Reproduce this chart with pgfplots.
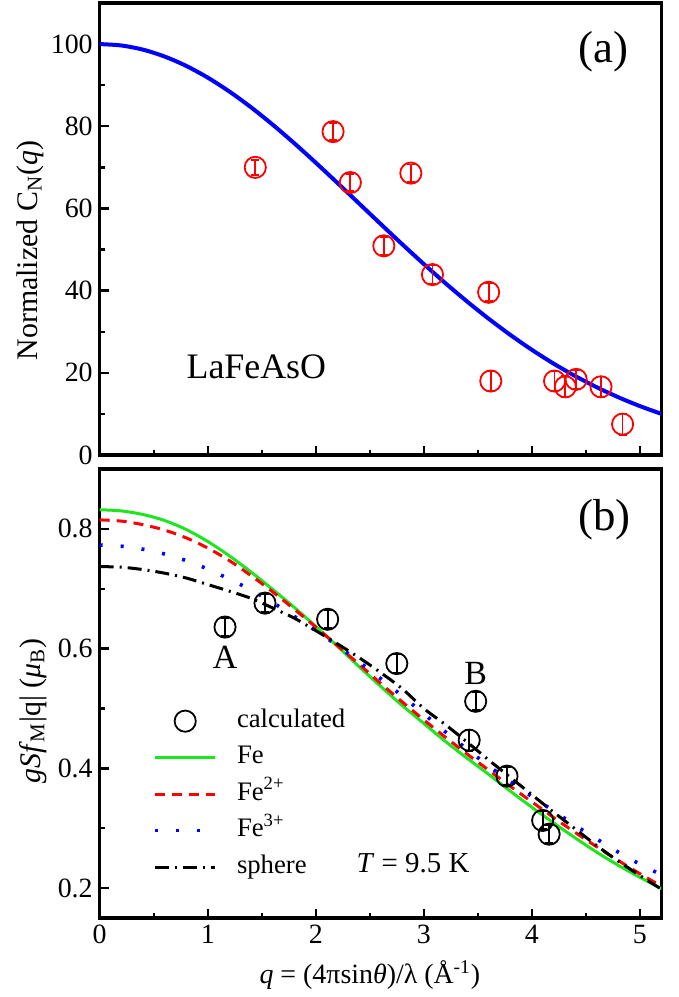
\documentclass[border=0pt]{standalone}
\usepackage{fontspec}
\setmainfont{Liberation Serif}
\usepackage{pgfplots}
\pgfplotsset{compat=1.18}
\usepackage{pgfplotstable}

\definecolor{fegreen}{RGB}{30,230,30}

% Normalized C_N(q): measured points with errors
\pgfplotstableread{
q     c     e
1.44  70.0  1.8
2.16  78.7  2.0
2.32  66.3  2.0
2.63  50.9  2.2
2.88  68.6  2.1
3.08  43.9  2.3
3.60  39.6  2.2
3.62  18.0  2.5
4.21  18.0  2.3
4.31  16.6  2.6
4.41  18.4  2.3
4.64  16.6  2.5
4.84   7.5  2.6
}\cndata

% Normalized C_N(q): fitted curve
\pgfplotstableread{
q    c
0.0  100.00
0.2  99.66
0.4  98.65
0.6  96.98
0.8  94.70
1.0  91.84
1.2  88.46
1.4  84.63
1.6  80.41
1.8  75.89
2.0  71.13
2.2  66.22
2.4  61.23
2.6  56.23
2.8  51.29
3.0  46.47
3.2  41.81
3.4  37.37
3.6  33.17
3.8  29.24
4.0  25.60
4.2  22.26
4.4  19.23
4.6  16.50
4.8  14.06
5.0  11.90
5.2  10.00
}\cnfit

% calculated g S f_M |q|
\pgfplotstableread{
q     m      e
1.16  0.636  0.015
1.53  0.676  0.015
2.11  0.649  0.015
2.75  0.575  0.015
3.48  0.512  0.015
3.42  0.447  0.018
3.77  0.387  0.015
4.10  0.313  0.015
4.16  0.290  0.015
}\calc

% form factor curves
\pgfplotstableread{
q    fe     fetwo  fethree sph
0.0  0.832  0.815  0.773   0.737
0.2  0.830  0.813  0.771   0.736
0.4  0.824  0.807  0.766   0.732
0.6  0.814  0.798  0.758   0.726
0.8  0.799  0.785  0.747   0.718
1.0  0.779  0.768  0.733   0.707
1.2  0.755  0.747  0.716   0.696
1.4  0.728  0.722  0.698   0.684
1.6  0.699  0.695  0.677   0.668
1.8  0.669  0.666  0.654   0.651
2.0  0.637  0.636  0.630   0.630
2.2  0.604  0.605  0.605   0.608
2.4  0.570  0.574  0.578   0.585
2.6  0.537  0.542  0.550   0.560
2.8  0.505  0.511  0.521   0.533
3.0  0.475  0.481  0.491   0.500
3.2  0.445  0.452  0.461   0.473
3.4  0.417  0.424  0.432   0.444
3.6  0.390  0.397  0.404   0.414
3.8  0.362  0.370  0.378   0.385
4.0  0.335  0.344  0.353   0.356
4.2  0.309  0.318  0.329   0.327
4.4  0.284  0.293  0.305   0.299
4.6  0.260  0.269  0.282   0.271
4.8  0.238  0.246  0.260   0.245
5.0  0.218  0.224  0.240   0.221
5.2  0.199  0.203  0.222   0.198
}\ffcurves

\pgfplotsset{
  panel/.style={
    scale only axis, width=280.9bp,
    xmin=0, xmax=5.2,
    axis line style={line width=1.6bp},
    tick align=inside, xtick pos=bottom, ytick pos=left,
    major tick length=4.5bp, minor tick length=2.5bp,
    every tick/.style={black, line width=1.2bp},
    xtick={0,1,2,3,4,5}, minor xtick={0.5,1.5,2.5,3.5,4.5},
    tick label style={font=\fontsize{14}{16}\selectfont},
    /pgf/number format/assume math mode=true,
  },
  lineimg/.style={legend image code/.code={\draw[##1] (0bp,0bp) -- (30bp,0bp);}},
  markimg/.style={legend image code/.code={\path[draw=none] (0bp,0bp) -- (30bp,0bp); \draw[##1] plot coordinates {(15bp,0bp)};}},
  redline/.style={red, line width=1.5bp, dash pattern=on 5bp off 3.5bp},
  blueline/.style={blue, line width=1.8bp, dash pattern=on 1.5bp off 9bp},
  sphline/.style={black, line width=1.5bp, dash pattern=on 7bp off 3bp on 1bp off 3bp},
}

\begin{document}
\begin{tikzpicture}
\path[use as bounding box] (-49.85bp,-39.5bp) rectangle (289.65bp,459bp);

% (a) normalized C_N(q)
\begin{axis}[panel, at={(0,231.5bp)}, anchor=south west, height=226bp,
  ymin=0, ymax=110, ytick={0,20,40,60,80,100}, minor ytick={10,30,50,70,90},
  xticklabels={},
  ylabel={Normalized C\textsubscript{N}(\textit{q})},
  every axis y label/.style={at={(axis description cs:-0.124,0.452)}, rotate=90, anchor=center,
    font=\fontsize{15}{18}\selectfont},
]
\addplot[blue, line width=2bp, no marks, smooth] table[x=q, y=c] {\cnfit};
\addplot[only marks, red, mark=o, mark size=5.3bp, mark options={line width=0.9bp},
  error bars/.cd, y dir=both, y explicit,
  error bar style={line width=0.9bp, red},
  error mark options={rotate=90, mark size=2bp, line width=0.9bp, red}]
  table[x=q, y=c, y error=e] {\cndata};
\node[font=\fontsize{22.5}{26}\selectfont] at (axis description cs:0.896,0.892) {(a)};
\node[font=\fontsize{18}{21}\selectfont] at (axis cs:1.45,21.4) {LaFeAsO};
\end{axis}

% (b) g S f_M |q|
\begin{axis}[panel, at={(0,0)}, anchor=south west, height=224.5bp,
  ymin=0.15, ymax=0.9, ytick={0.2,0.4,0.6,0.8}, minor ytick={0.3,0.5,0.7},
  yticklabel style={/pgf/number format/.cd, fixed, precision=1},
  ylabel={\textit{gSf}\textsubscript{M}|q| (\textit{μ}\textsubscript{B})},
  every axis y label/.style={at={(axis description cs:-0.119,0.461)}, rotate=90, anchor=center,
    font=\fontsize{15}{18}\selectfont},
  xlabel={\textit{q} = (4πsin\textit{θ})/λ (Å\textsuperscript{-1})},
  every axis x label/.style={at={(axis description cs:0.481,0)}, yshift=-28.5bp, anchor=center,
    font=\fontsize{14}{17}\selectfont},
  legend style={draw=none, fill=none, at={(axis description cs:0.0949,0.466)}, anchor=north west,
    inner sep=0pt, row sep=6.25bp, column sep=10bp,
    font=\fontsize{13.4}{15}\selectfont,
    nodes={inner sep=0pt, text height=9bp, text depth=3bp}},
  legend cell align=left,
]
\addlegendimage{markimg, black, only marks, mark=o, mark size=5.3bp, mark options={line width=0.9bp}}
\addlegendentry{calculated}
\addlegendimage{lineimg, fegreen, line width=1.5bp}
\addlegendentry{Fe}
\addlegendimage{lineimg, redline}
\addlegendentry{Fe\textsuperscript{2+}}
\addlegendimage{lineimg, blueline}
\addlegendentry{Fe\textsuperscript{3+}}
\addlegendimage{lineimg, sphline}
\addlegendentry{sphere}

\addplot[fegreen, line width=1.5bp, no marks, smooth, forget plot] table[x=q, y=fe] {\ffcurves};
\addplot[redline, no marks, smooth, forget plot] table[x=q, y=fetwo] {\ffcurves};
\addplot[blueline, no marks, smooth, forget plot] table[x=q, y=fethree] {\ffcurves};
\addplot[sphline, no marks, smooth, forget plot] table[x=q, y=sph] {\ffcurves};
\addplot[only marks, black, mark=o, mark size=5.3bp, mark options={line width=0.9bp}, forget plot,
  error bars/.cd, y dir=both, y explicit,
  error bar style={line width=0.9bp, black},
  error mark options={rotate=90, mark size=2bp, line width=0.9bp, black}]
  table[x=q, y=m, y error=e] {\calc};

\node[font=\fontsize{22.5}{26}\selectfont] at (axis description cs:0.899,0.886) {(b)};
\node[font=\fontsize{17}{20}\selectfont] at (axis cs:1.16,0.585) {A};
\node[font=\fontsize{17}{20}\selectfont] at (axis cs:3.48,0.558) {B};
\node[font=\fontsize{14.5}{17}\selectfont] at (axis cs:2.90,0.241) {\textit{T} = 9.5 K};
\end{axis}
\end{tikzpicture}
\end{document}
